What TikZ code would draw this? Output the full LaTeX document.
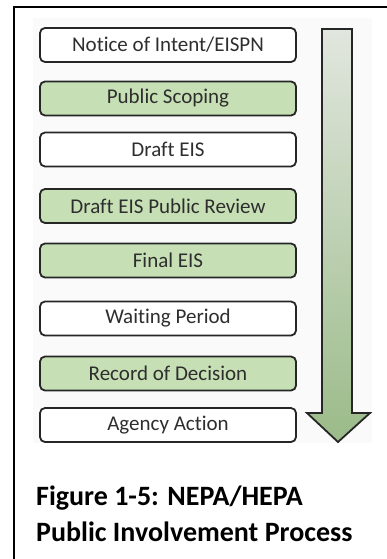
\documentclass[tikz,border=0pt]{standalone}
\usepackage{fontspec}
\setmainfont{Carlito}[Ligatures=NoCommon]
\usepackage{tikz}

\definecolor{boxgreen}{HTML}{C6DFB4}
\definecolor{boxline}{HTML}{262626}
\definecolor{boxtext}{HTML}{2E2E2E}
\definecolor{arrowtop}{HTML}{E1E6DE}
\definecolor{arrowbot}{HTML}{9BBB89}

\tikzset{
  whitebox/.style={draw=boxline, line width=1.8pt, rounded corners=5pt, fill=white,
    minimum width=256pt, minimum height=34pt, inner sep=0pt,
    text=boxtext, font=\fontsize{21}{25}\selectfont},
  greenbox/.style={whitebox, fill=boxgreen}
}

\begin{document}
\begin{tikzpicture}[x=1pt,y=-1pt]
  \useasboundingbox (0,0) rectangle (387,559);
  % faint panel behind the steps
  \fill[black!2] (33,18) rectangle (372,443);
  % frame (left and top only)
  \draw[line width=2pt] (14,559) -- (14,7) -- (387,7);
  % the steps
  \node[whitebox] (notice)   at (168,45)    {Notice of Intent/EISPN};
  \node[greenbox] (scoping)  at (168,98.5)  {Public Scoping};
  \node[whitebox] (draft)    at (168,149.5) {Draft EIS};
  \node[greenbox] (review)   at (168,206)   {Draft EIS Public Review};
  \node[greenbox] (final)    at (168,260.5) {Final EIS};
  \node[whitebox] (waiting)  at (168,318.5) {Waiting Period};
  \node[greenbox] (decision) at (168,373.5) {Record of Decision};
  \node[whitebox] (action)   at (168,425)   {Agency Action};
  % big arrow down the side
  \shade[top color=arrowtop, bottom color=arrowbot]
    (322,29) -- (352,29) -- (352,413) -- (370,413) -- (338,442) -- (307,413) -- (322,413) -- cycle;
  \draw[boxline, line width=1.8pt, line join=miter]
    (322,29) -- (352,29) -- (352,413) -- (370,413) -- (338,442) -- (307,413) -- (322,413) -- cycle;
  % caption
  \node[anchor=north west, align=left, inner sep=0pt, font=\bfseries\fontsize{28}{36}\selectfont]
    (caption) at (36,486) {Figure 1-5: NEPA/HEPA\\Public Involvement Process};
\end{tikzpicture}
\end{document}
